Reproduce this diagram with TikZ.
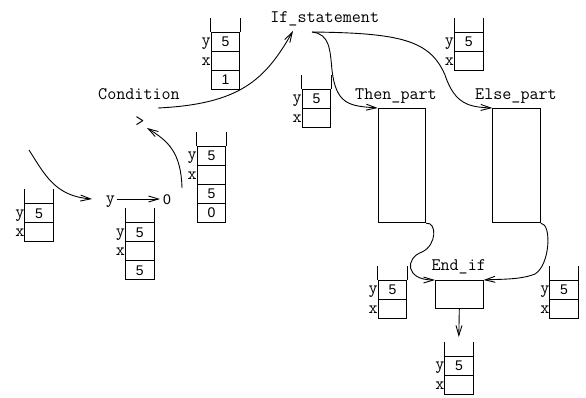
\documentclass[tikz,border=0pt]{standalone}
\usepackage{fontspec}
\setsansfont{Liberation Sans}
\usetikzlibrary{arrows.meta}
\tikzset{
  lbl/.style={font=\ttfamily\fontsize{17.6}{18}\selectfont, inner sep=0pt, anchor=base},
  cell/.style={draw, minimum width=28.6pt, minimum height=19pt, inner sep=0pt, anchor=north west, font=\sffamily\fontsize{14}{14}\selectfont},
  side/.style={font=\ttfamily\fontsize{17.6}{18}\selectfont, inner sep=0pt, anchor=base east},
  arr/.style={-{Straight Barb[length=10pt,width=6pt]}},
  blk/.style={draw, inner sep=0pt, anchor=north west},
}
\newcommand\mystack[4]{%
  \foreach \c [count=\i] in {#4} {\node[cell] (#1-\i) at (#2,{#3+19*(\i-1)}) {\c};}
  \draw (#1-1.north west) -- ++(0,-14);
  \draw (#1-1.north east) -- ++(0,-14);
  \node[side] (#1-y) at ([xshift=0.5pt,yshift=-3.8pt]#1-1.west) {y};
  \node[side] (#1-x) at ([xshift=0.5pt,yshift=-4.6pt]#1-2.west) {x};
}
\begin{document}
\begin{tikzpicture}[x=1pt,y=-1pt,line width=0.9pt]
\useasboundingbox (0,0) rectangle (586,397);
% stacks
\mystack{sa}{210.7}{31.7}{5,{},1}
\mystack{sb}{196.7}{145.7}{5,{},5,0}
\mystack{sc}{24.3}{203.3}{5,{}}
\mystack{sd}{125}{222.3}{5,{},5}
\mystack{se}{301.7}{89}{5,{}}
\mystack{sf}{454}{31.7}{5,{}}
\mystack{sg}{377.7}{280}{5,{}}
\mystack{sh}{549.3}{280}{5,{}}
\mystack{si}{444.3}{355.7}{5,{}}
% labels
\node[lbl] (if) at (324.7,22.5) {If\_statement};
\node[lbl] (cond) at (139,99.5) {Condition};
\node[lbl] (then) at (396,99.3) {Then\_part};
\node[lbl] (else) at (516,99.3) {Else\_part};
\node[lbl] (endl) at (458.7,270) {End\_if};
\node[lbl] (gt) at (140,126) {>};
\node[lbl] (yv) at (110.5,203) {y};
\node[font=\sffamily\fontsize{14}{14}\selectfont, inner sep=0pt, anchor=base] (zero) at (167,204) {0};
% boxes
\node[blk, minimum width=47.6pt, minimum height=114.3pt] (thenb) at (377.7,108) {};
\node[blk, minimum width=47.7pt, minimum height=114.3pt] (elseb) at (492.3,108) {};
\node[blk, minimum width=47.7pt, minimum height=28.3pt] (endb) at (435,280) {};
% connector ends
\coordinate (a1s) at (29,150);
\coordinate (a1e) at (92,199);
\coordinate (a2s) at (117,199);
\coordinate (a2e) at (160,199);
\coordinate (a3s) at (182,188);
\coordinate (a3e) at (147,128);
\coordinate (a4s) at (158,108);
\coordinate (a4e) at (293,31);
\coordinate (ifo) at (312,32);
\coordinate (a9e) at (458.8,337);
% connectors
\draw[arr] (a1s) .. controls (45,175) and (55,196) .. (a1e);
\draw[arr] (a2s) -- (a2e);
\draw[arr] (a3s) .. controls (181,152) and (168,141) .. (a3e);
\draw[arr] (a4s) .. controls (240,104) and (265,80) .. (a4e);
\draw[arr] (ifo) .. controls (330,34) and (330,50) .. (332,70) .. controls (336,105) and (350,106) .. (thenb.north west);
\draw[arr] (ifo) .. controls (400,33) and (430,40) .. (445,75) .. controls (455,105) and (470,107) .. (elseb.north west);
\draw[arr] (thenb.south east) .. controls (437,222) and (437,245) .. (422,252) .. controls (405,258) and (405,280) .. (endb.north west);
\draw[arr] (elseb.south east) .. controls (552,224) and (550,265) .. (535,274) .. controls (520,280) and (500,279) .. (endb.north east);
\draw[arr] (endb.south) -- (a9e);
\end{tikzpicture}
\end{document}
